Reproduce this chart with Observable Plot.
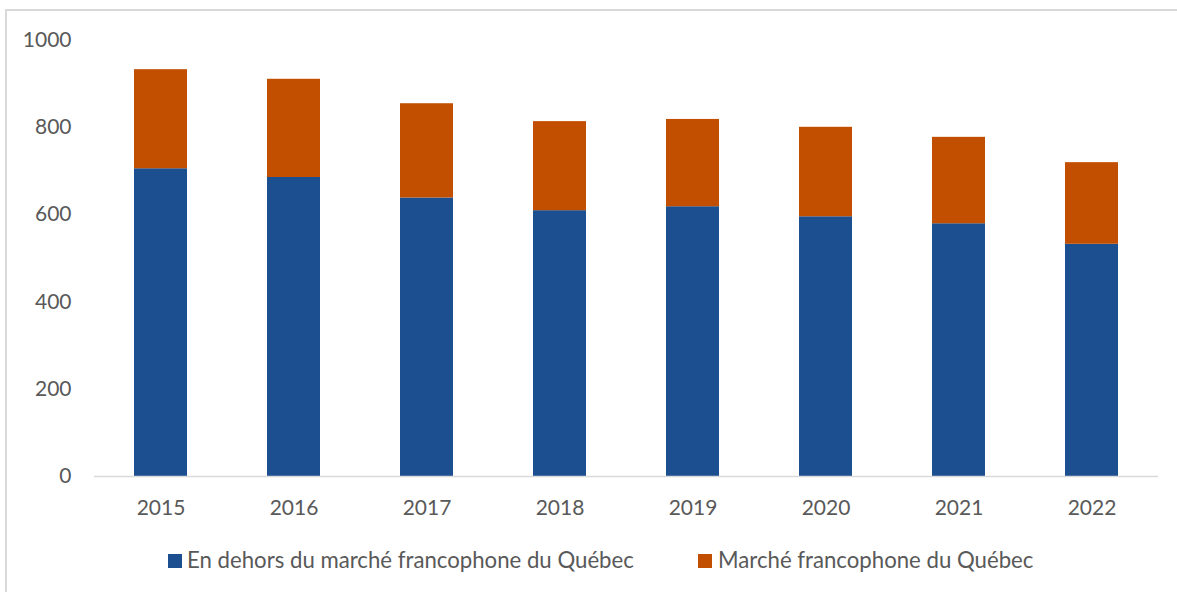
<!DOCTYPE html>
<html>
<head>
<meta charset="utf-8">
<script src="https://cdn.jsdelivr.net/npm/d3@7"></script>
<script src="https://cdn.jsdelivr.net/npm/@observablehq/plot@0.6"></script>
<style>
  html, body { margin: 0; padding: 0; background: #fff; overflow: hidden; }
  body { width: 1177px; height: 592px; position: relative; font-family: Lato, "Open Sans", sans-serif; }
  #frame { position: absolute; left: 5px; top: 9px; width: 1190px; height: 600px; border: 2px solid #d9d9d9; box-sizing: border-box; }
  #chart { position: absolute; left: 0; top: 0; }
  .leg { position: absolute; top: 546px; font-size: 22.2px; color: #595959; white-space: nowrap; line-height: 28px; }
  .sw { position: absolute; width: 14px; height: 14px; top: 554px; }
</style>
</head>
<body>
<div id="frame"></div>
<div id="chart"></div>
<div id="legend"></div>
<script>
const years = ["2015", "2016", "2017", "2018", "2019", "2020", "2021", "2022"];
const seriesNames = ["En dehors du marché francophone du Québec", "Marché francophone du Québec"];
const outsideQuebec = [705, 685, 638, 609, 618, 595, 579, 532];
const quebecFrancophone = [227, 225, 216, 204, 200, 205, 198, 187];
const yTicks = [0, 200, 400, 600, 800, 1000];
const colors = ["#1b4f8f", "#c24e00"];

const data = [];
years.forEach((y, i) => {
  data.push({year: y, series: seriesNames[0], value: outsideQuebec[i]});
  data.push({year: y, series: seriesNames[1], value: quebecFrancophone[i]});
});

const chart = Plot.plot({
  width: 1177,
  height: 530,
  marginLeft: 94,
  marginRight: 19,
  marginTop: 39.5,
  marginBottom: 54,
  style: {fontFamily: "Lato, 'Open Sans', sans-serif", fontSize: "21px", color: "#595959", background: "transparent"},
  x: {domain: years, paddingInner: 0.6, paddingOuter: 0.3, label: null, tickSize: 0, tickPadding: 24},
  y: {domain: [0, 1000], ticks: yTicks, tickFormat: d => String(d), label: null, tickSize: 0, tickPadding: 23},
  color: {domain: seriesNames, range: colors},
  marks: [
    Plot.barY(data, {x: "year", y: "value", fill: "series", z: "series", order: seriesNames}),
    Plot.ruleY([0], {stroke: "#d9d9d9", strokeWidth: 1.5})
  ]
});
document.getElementById("chart").appendChild(chart);

const legend = document.getElementById("legend");
const legendPos = [{sw: 168, tx: 187}, {sw: 698, tx: 718}];
seriesNames.forEach((name, i) => {
  const sw = document.createElement("div");
  sw.className = "sw";
  sw.style.left = legendPos[i].sw + "px";
  sw.style.background = colors[i];
  legend.appendChild(sw);
  const t = document.createElement("div");
  t.className = "leg";
  t.style.left = legendPos[i].tx + "px";
  t.textContent = name;
  legend.appendChild(t);
});
</script>
</body>
</html>
